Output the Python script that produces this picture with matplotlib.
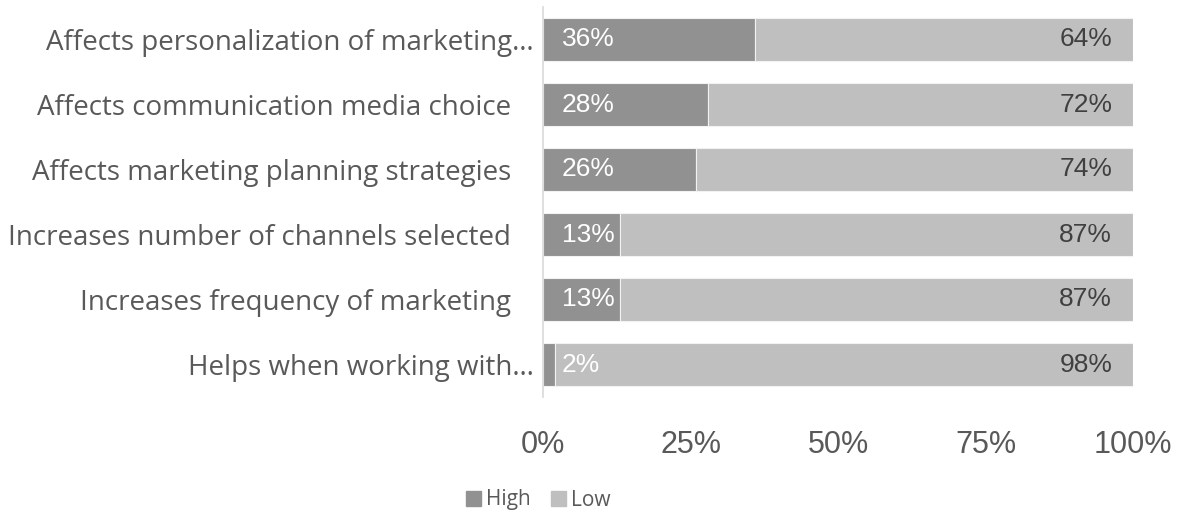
import matplotlib
matplotlib.use("Agg")
import matplotlib.pyplot as plt
from matplotlib.patches import Patch
from matplotlib.transforms import ScaledTranslation

categories = [
    "Affects personalization of marketing\u2026",
    "Affects communication media choice",
    "Affects marketing planning strategies",
    "Increases number of channels selected",
    "Increases frequency of marketing",
    "Helps when working with\u2026",
]
high = [36, 28, 26, 13, 13, 2]
low = [64, 72, 74, 87, 87, 98]
series_names = ["High", "Low"]
tick_values = [0, 25, 50, 75, 100]
tick_labels = ["0%", "25%", "50%", "75%", "100%"]

c_high = "#919191"
c_low = "#bfbfbf"
text_dark = "#595959"

W, H = 1185, 515
fig = plt.figure(figsize=(W / 100, H / 100), dpi=100)
ax = fig.add_axes([543 / W, 1 - 397 / H, (1133 - 543) / W, 390 / H])

y = list(range(len(categories)))
ax.barh(y, high, height=0.66, color=c_high, edgecolor="#f2f2f2", linewidth=0.8)
ax.barh(y, low, left=high, height=0.66, color=c_low, edgecolor="#f2f2f2", linewidth=0.8)

num_font = ["Liberation Sans", "DejaVu Sans"]
for yi, h, l in zip(y, high, low):
    ax.annotate(f"{h}%", xy=(0, yi), xytext=(13.7, 0), textcoords="offset points",
                ha="left", va="center", color="white", fontsize=19, family=num_font)
    ax.annotate(f"{l}%", xy=(h + l, yi), xytext=(-15, 0), textcoords="offset points",
                ha="right", va="center", color="#404040", fontsize=19, family=num_font)

ax.set_xlim(0, 100)
ax.set_ylim(len(categories) - 0.5, -0.5)
ax.set_yticks(y)
ax.set_yticklabels(categories, fontsize=20, color=text_dark, family=["Open Sans", "DejaVu Sans"])
ax.set_xticks(tick_values)
ax.set_xticklabels(tick_labels, fontsize=22, color=text_dark, family=num_font)
ax.tick_params(axis="y", length=0, pad=23)
ax.tick_params(axis="x", length=0, pad=24)

# truncated labels sit a little closer to the axis
for lab in ax.get_yticklabels():
    if lab.get_text().endswith("\u2026"):
        lab.set_transform(lab.get_transform() + ScaledTranslation(23 / 100, 0, fig.dpi_scale_trans))

for s in ["top", "right", "bottom"]:
    ax.spines[s].set_visible(False)
ax.spines["left"].set_color("#d9d9d9")
ax.spines["left"].set_linewidth(1.2)

handles = [Patch(color=c_high, label=series_names[0]), Patch(color=c_low, label=series_names[1])]
fig.legend(handles=handles, loc="center", bbox_to_anchor=(538 / W, 1 - 500 / H), ncol=2,
           frameon=False, handlelength=0.72, handleheight=0.72, handletextpad=0.25,
           columnspacing=0.95, borderpad=0, prop={"family": ["Open Sans", "DejaVu Sans"], "size": 15},
           labelcolor=text_dark)

fig.savefig("out.png", dpi=100)
